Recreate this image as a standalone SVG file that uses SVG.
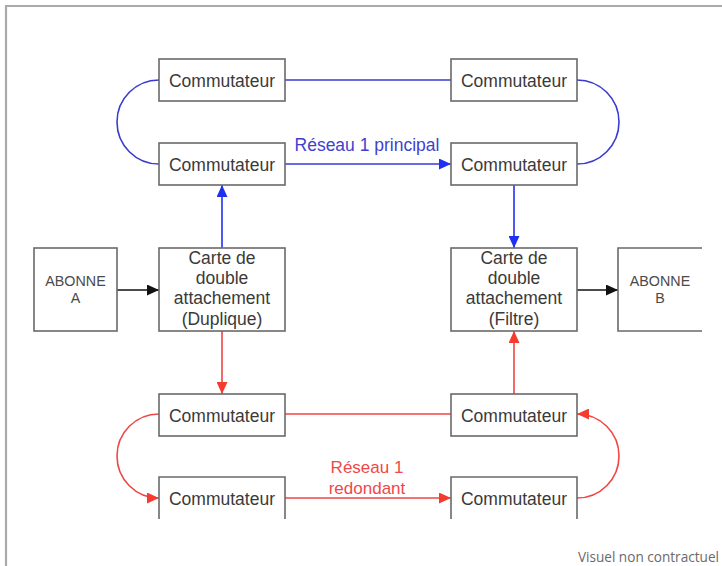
<svg xmlns="http://www.w3.org/2000/svg" width="722" height="566" viewBox="0 0 722 566">
<style>
.box{fill:#fff;stroke:#6a6a6a;stroke-width:1.6}
.t{font-family:"Liberation Sans",Arial,sans-serif;font-size:17.5px;fill:#3a3a3a;text-anchor:middle}
.ts{font-family:"Liberation Sans",Arial,sans-serif;font-size:14.3px;fill:#4a4a4a;text-anchor:middle}
.blue{fill:none;stroke:#3a3ad2;stroke-width:1.6}
.blue2{fill:none;stroke:#2030f0;stroke-width:1.6}
.red{fill:none;stroke:#f04545;stroke-width:1.6}
.blk{fill:none;stroke:#111;stroke-width:1.6}
</style>
<defs>
<marker id="ab" markerUnits="userSpaceOnUse" markerWidth="13" markerHeight="11" refX="12" refY="5.5" orient="auto"><path d="M0,0 L12,5.5 L0,11 Z" fill="#2030f0"/></marker>
<marker id="ar" markerUnits="userSpaceOnUse" markerWidth="13" markerHeight="11" refX="12" refY="5.5" orient="auto"><path d="M0,0 L12,5.5 L0,11 Z" fill="#f53a30"/></marker>
<marker id="ak" markerUnits="userSpaceOnUse" markerWidth="13" markerHeight="11" refX="12" refY="5.5" orient="auto"><path d="M0,0 L12,5.5 L0,11 Z" fill="#111"/></marker>
</defs>
<rect width="722" height="566" fill="#fff"/>
<path d="M6,566 V6 H722" fill="none" stroke="#aaaaab" stroke-width="2.2"/>

<g id="connectors">
<line class="blue" x1="285" y1="80" x2="451" y2="80"/>
<line class="blue" x1="285" y1="164" x2="451" y2="164" marker-end="url(#ab)"/>
<path class="blue" d="M159,80 A42,42 0 0 0 159,164"/>
<path class="blue" d="M577,80 A42,42 0 0 1 577,164"/>
<line class="blue2" x1="222" y1="248" x2="222" y2="185" marker-end="url(#ab)"/>
<line class="blue2" x1="514" y1="185" x2="514" y2="248" marker-end="url(#ab)"/>
<line class="blk" x1="117" y1="290" x2="159" y2="290" marker-end="url(#ak)"/>
<line class="blk" x1="577" y1="290" x2="618" y2="290" marker-end="url(#ak)"/>
<line class="red" x1="222" y1="331" x2="222" y2="394" marker-end="url(#ar)"/>
<line class="red" x1="514" y1="394" x2="514" y2="331" marker-end="url(#ar)"/>
<line class="red" x1="285" y1="414" x2="451" y2="414"/>
<line class="red" x1="285" y1="498" x2="451" y2="498" marker-end="url(#ar)"/>
<path class="red" d="M159,414 A42,42 0 0 0 159,498" marker-end="url(#ar)"/>
<path class="red" d="M577,498 A42,42 0 0 0 577,414" marker-end="url(#ar)"/>
</g>

<text x="367" y="150.5" class="t" style="fill:#3f3fd0">Réseau 1 principal</text>
<text x="367" y="473" class="t" style="fill:#f04848;font-size:17px">Réseau 1</text>
<text x="367" y="493.5" class="t" style="fill:#f04848;font-size:17px">redondant</text>

<g id="sw1"><rect class="box" x="159" y="59" width="126" height="42"/><text x="222" y="87" class="t">Commutateur</text></g>
<g id="sw2"><rect class="box" x="451" y="59" width="126" height="42"/><text x="514" y="87" class="t">Commutateur</text></g>
<g id="sw3"><rect class="box" x="159" y="143" width="126" height="42"/><text x="222" y="171" class="t">Commutateur</text></g>
<g id="sw4"><rect class="box" x="451" y="143" width="126" height="42"/><text x="514" y="171" class="t">Commutateur</text></g>

<g id="aboA"><rect class="box" x="34" y="248" width="83" height="83"/><text x="75.5" y="285.5" class="ts">ABONNE</text><text x="75.5" y="302.5" class="ts">A</text></g>
<g id="carteA"><rect class="box" x="159" y="248" width="126" height="83"/>
<text x="222" y="263.5" class="t">Carte de</text><text x="222" y="284" class="t">double</text><text x="222" y="304.3" class="t">attachement</text><text x="222" y="324.6" class="t">(Duplique)</text></g>
<g id="carteB"><rect class="box" x="451" y="248" width="126" height="83"/>
<text x="514" y="263.5" class="t">Carte de</text><text x="514" y="284" class="t">double</text><text x="514" y="304.3" class="t">attachement</text><text x="514" y="324.6" class="t">(Filtre)</text></g>
<g id="aboB"><rect x="618" y="248" width="84" height="83" fill="#fff"/><path class="box" d="M702,248 H618 V331 H702"/><text x="660" y="285.5" class="ts">ABONNE</text><text x="660" y="302.5" class="ts">B</text></g>

<g id="sw5"><rect class="box" x="159" y="394" width="126" height="42"/><text x="222" y="422" class="t">Commutateur</text></g>
<g id="sw6"><rect class="box" x="451" y="394" width="126" height="42"/><text x="514" y="422" class="t">Commutateur</text></g>
<g id="sw7"><rect x="159" y="477" width="126" height="42" fill="#fff"/><path class="box" d="M159,519 V477 H285 V519"/><text x="222" y="505" class="t">Commutateur</text></g>
<g id="sw8"><rect x="451" y="477" width="126" height="42" fill="#fff"/><path class="box" d="M451,519 V477 H577 V519"/><text x="514" y="505" class="t">Commutateur</text></g>

<text x="719" y="562" style="font-family:'Open Sans',sans-serif;font-size:13.6px;fill:#6a6a6a;text-anchor:end">Visuel non contractuel</text>
</svg>
